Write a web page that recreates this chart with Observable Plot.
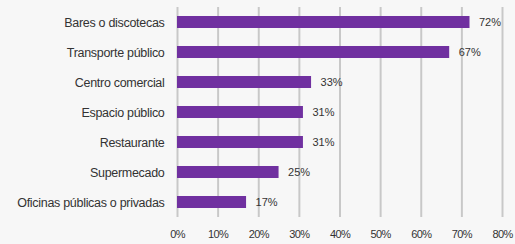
<!DOCTYPE html>
<html>
<head>
<meta charset="utf-8">
<script src="https://cdn.jsdelivr.net/npm/d3@7"></script>
<script src="https://cdn.jsdelivr.net/npm/@observablehq/plot@0.6"></script>
<style>
  html, body { margin: 0; padding: 0; background: #f7f7f7; }
  #chart svg { display: block; }
  #chart g[aria-label="y-axis tick label"] text { font-size: 12.5px; letter-spacing: -0.3px; }
  #chart g[aria-label="x-axis tick label"] text { letter-spacing: -0.6px; }
</style>
</head>
<body>
<div id="chart"></div>
<script>
const categories = ["Bares o discotecas", "Transporte público", "Centro comercial", "Espacio público", "Restaurante", "Supermecado", "Oficinas públicas o privadas"];
const values = [72, 67, 33, 31, 31, 25, 17];
const xTicks = [0, 10, 20, 30, 40, 50, 60, 70, 80];

const data = categories.map((c, i) => ({category: c, value: values[i]}));

const chart = Plot.plot({
  width: 515,
  height: 244,
  marginLeft: 177,
  marginRight: 13,
  marginTop: 7,
  marginBottom: 27,
  style: {background: "#f7f7f7", fontFamily: "'Liberation Sans Narrow', 'Liberation Sans', sans-serif", fontSize: "11px", color: "#333"},
  x: {domain: [0, 80], ticks: xTicks, tickFormat: d => d + "%", tickSize: 0, tickPadding: 13, label: null},
  y: {domain: categories, paddingInner: 0.6, paddingOuter: 0.3, tickSize: 0, tickPadding: 13, label: null},
  marks: [
    Plot.ruleX(xTicks, {stroke: "#c8c8c8", strokeWidth: 2}),
    Plot.barX(data, {x: "value", y: "category", fill: "#7030a0"}),
    Plot.text(data, {x: "value", y: "category", text: d => d.value + "%", textAnchor: "start", dx: 9, fill: "#333", fontSize: 11})
  ]
});
document.getElementById("chart").appendChild(chart);
</script>
</body>
</html>
